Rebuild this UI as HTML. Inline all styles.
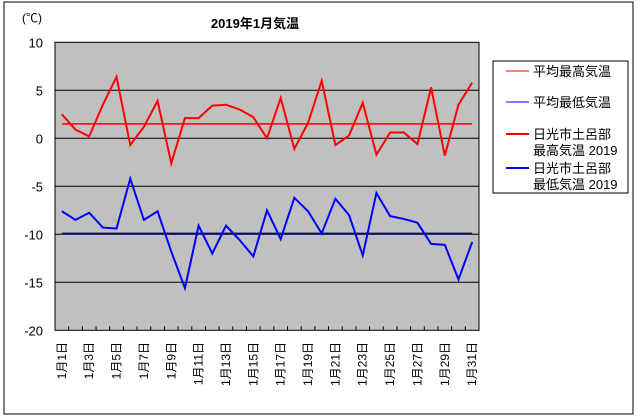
<!DOCTYPE html>
<html><head><meta charset="utf-8"><style>
body{margin:0;background:#fff}
svg{display:block;font-family:"Liberation Sans","Noto Sans CJK JP",sans-serif}
</style></head><body>
<svg id="c" width="640" height="420" xmlns="http://www.w3.org/2000/svg">
<rect x="4" y="2" width="629" height="412" fill="#fff" stroke="#000" stroke-width="1"/>
<text x="255" y="28" font-size="13" font-weight="bold" text-anchor="middle">2019年1月気温</text>
<text x="22" y="22" font-size="12">(℃)</text>
<rect x="55" y="42.3" width="424" height="288" fill="#c0c0c0" stroke="#000"/>
<g id="grid"></g><g id="marks"></g><g id="axes"></g>
<g>
<rect x="493" y="61" width="135" height="132" fill="#fff" stroke="#000"/>
<line x1="506" y1="71" x2="529" y2="71" stroke="#f00" stroke-width="1"/>
<text x="533" y="76" font-size="13">平均最高気温</text>
<line x1="506" y1="102" x2="529" y2="102" stroke="#00f" stroke-width="1"/>
<text x="533" y="107" font-size="13">平均最低気温</text>
<line x1="506" y1="134" x2="529" y2="134" stroke="#f00" stroke-width="2"/>
<text x="533" y="139" font-size="13">日光市土呂部</text>
<text x="533" y="155" font-size="13">最高気温 2019</text>
<line x1="506" y1="168" x2="529" y2="168" stroke="#00f" stroke-width="2"/>
<text x="533" y="173" font-size="13">日光市土呂部</text>
<text x="533" y="189" font-size="13">最低気温 2019</text>
</g>
</svg>
<script>
const days=[];for(let i=1;i<=31;i++)days.push(i);
const maxTemps=[2.5,0.9,0.2,3.5,6.4,-0.7,1.2,3.9,-2.6,2.1,2.1,3.4,3.5,3.0,2.2,0.0,4.2,-1.1,1.6,6.0,-0.7,0.3,3.7,-1.7,0.6,0.6,-0.6,5.3,-1.8,3.5,5.8];
const minTemps=[-7.6,-8.5,-7.75,-9.3,-9.4,-4.2,-8.5,-7.6,-11.8,-15.6,-9.1,-12.0,-9.1,-10.6,-12.3,-7.5,-10.5,-6.2,-7.6,-9.9,-6.3,-8.0,-12.2,-5.7,-8.1,-8.4,-8.8,-11.0,-11.1,-14.7,-10.8];
const avgMax=1.5;
const avgMin=-9.9;
const yTicks=[10,5,0,-5,-10,-15,-20];
const L=55,R=479,T=42.3,B=330.3,ymin=-20,ymax=10;
const NS='http://www.w3.org/2000/svg';
const step=(R-L)/days.length;
const xs=i=>L+(i+0.5)*step;
const ys=v=>B-(v-ymin)/(ymax-ymin)*(B-T);
function mk(t,a,p){const e=document.createElementNS(NS,t);for(const k in a)e.setAttribute(k,a[k]);p.appendChild(e);return e;}
const grid=document.getElementById('grid'),marks=document.getElementById('marks'),axes=document.getElementById('axes');
yTicks.forEach(v=>{
 if(v!==ymin&&v!==ymax){const g=mk('line',{x1:L,x2:R,y1:ys(v),y2:ys(v),stroke:'#000'},grid);
 
 }
 const t=mk('text',{x:43,y:ys(v)+5,'font-size':13,'text-anchor':'end'},axes);t.textContent=v;
 
 
});
for(let i=1;i<days.length;i++){const tk=mk('line',{x1:L+i*step,x2:L+i*step,y1:B,y2:B-4,stroke:'#000'},axes);
 
 }
days.forEach((d,i)=>{if(d%2===1){const x=xs(i)+4;const t=mk('text',{x:0,y:0,'font-size':12,'text-anchor':'end',transform:`translate(${x},342) rotate(-90)`},axes);t.textContent='1月'+d+'日';
 
 }});
const a1=mk('line',{x1:xs(0),x2:xs(days.length-1),y1:ys(avgMax),y2:ys(avgMax),stroke:'#f00','stroke-width':1.5},marks);


const a2=mk('line',{x1:xs(0),x2:xs(days.length-1),y1:ys(avgMin),y2:ys(avgMin),stroke:'#0000a0','stroke-width':1.5},marks);


const p1=mk('polyline',{points:maxTemps.map((v,i)=>xs(i)+','+ys(v)).join(' '),fill:'none',stroke:'#f00','stroke-width':2},marks);


const p2=mk('polyline',{points:minTemps.map((v,i)=>xs(i)+','+ys(v)).join(' '),fill:'none',stroke:'#00f','stroke-width':2},marks);


</script>
</body></html>
